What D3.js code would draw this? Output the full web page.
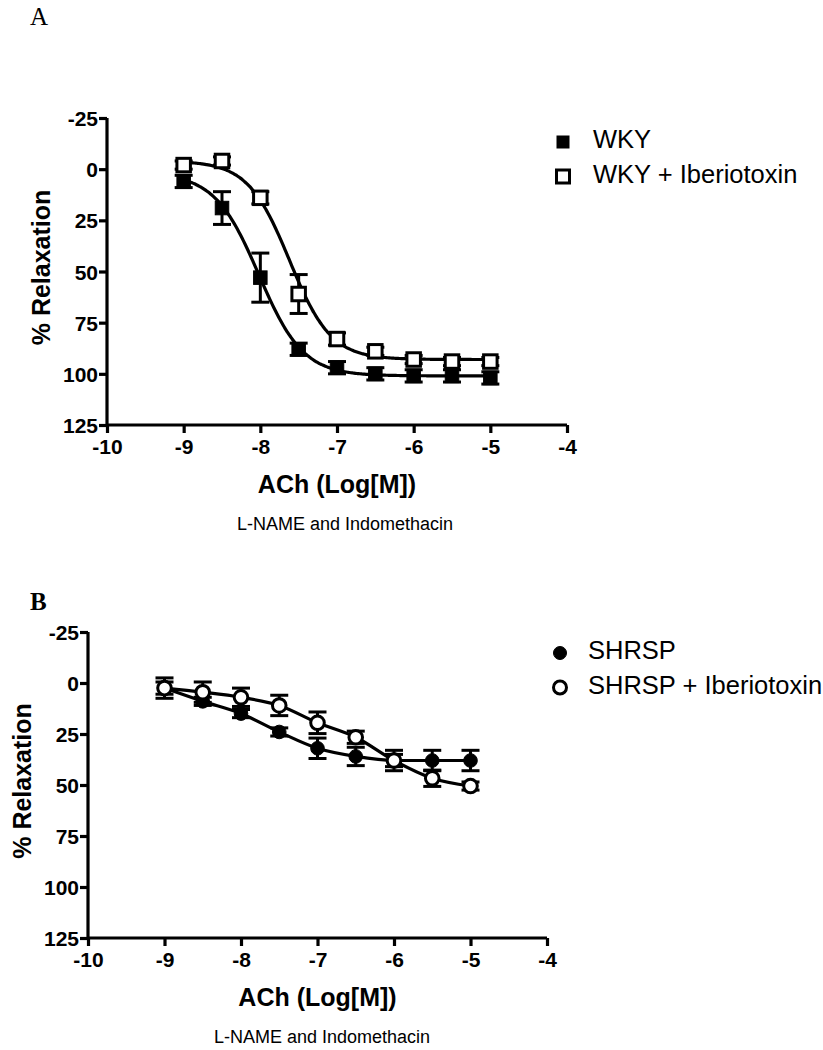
<!DOCTYPE html>
<html><head><meta charset="utf-8">
<script src="https://cdn.jsdelivr.net/npm/d3@7"></script>
<style>body{margin:0;background:#fff}svg{display:block}</style>
</head><body>
<script>
// ---------- data ----------
const logConc = [-9, -8.5, -8, -7.5, -7, -6.5, -6, -5.5, -5];
const xTicks = [-10, -9, -8, -7, -6, -5, -4];
const yTicks = [-25, 0, 25, 50, 75, 100, 125];

// Panel A
const wkyMean = [6, 19, 53, 88, 97, 100, 101, 101, 102];
const wkySem  = [3, 8, 12, 3, 3, 3, 3, 3, 3];
const wkyIbMean = [-2, -4, 14, 61, 83, 89, 93, 94, 94];
const wkyIbSem  = [2, 2, 3, 9.5, 3, 2, 2, 2, 2];
// sigmoid fit parameters [top, bottom, logEC50, hill]
const wkyFit   = [2, 101, -8.02, 1.5];
const wkyIbFit = [-4, 93, -7.62, 1.6];

// Panel B
const shrspMean = [2.5, 9, 15, 24, 32, 36, 38, 38, 38];
const shrspSem  = [5, 2, 2, 2, 5, 4.5, 5, 5, 5];
const shrspIbMean = [2.5, 4.5, 7, 11, 19.5, 26.6, 38, 46.7, 50.5];
const shrspIbSem  = [3, 5, 4.5, 5, 5.3, 3, 3, 4, 2];

const legendA = ["WKY", "WKY + Iberiotoxin"];
const legendB = ["SHRSP", "SHRSP + Iberiotoxin"];
const xTitle = "ACh (Log[M])";
const yTitle = "% Relaxation";
const subTitle = "L-NAME and Indomethacin";

// ---------- drawing ----------
const svg = d3.select("body").append("svg").attr("width", 823).attr("height", 1050);
const SANS = "'Liberation Sans', Arial, sans-serif";
const SERIF = "'Liberation Serif', 'Times New Roman', serif";

function panel(cfg) {
  const x = d3.scaleLinear().domain([-10, -4]).range([cfg.left, cfg.right]);
  const y = d3.scaleLinear().domain([-25, 125]).range([cfg.top, cfg.bottom]);
  const g = svg.append("g");
  const fmt = d => String(d);

  // axes
  const xa = g.append("g").attr("transform", `translate(0,${cfg.bottom})`)
    .call(d3.axisBottom(x).tickValues(xTicks).tickSize(8).tickPadding(6).tickFormat(fmt));
  const ya = g.append("g").attr("transform", `translate(${cfg.left},0)`)
    .call(d3.axisLeft(y).tickValues(yTicks).tickSize(8).tickPadding(1).tickFormat(fmt));
  [xa, ya].forEach(a => {
    a.select(".domain").attr("stroke", "#000").attr("stroke-width", 3.2)
      .attr("d", a === xa ? `M${cfg.left},0H${cfg.right}` : `M0,${cfg.top}V${cfg.bottom}`);
    a.selectAll(".tick line").attr("stroke", "#000").attr("stroke-width", 3.2);
    a.selectAll(".tick text").attr("fill", "#000").attr("font-family", SANS)
      .attr("font-weight", "bold").attr("font-size", 21);
  });
  ya.selectAll(".tick text").attr("dy", "0.36em");
  xa.selectAll(".tick text").attr("dy", "0.72em");

  // titles
  g.append("text").attr("x", (cfg.left + cfg.right) / 2).attr("y", cfg.bottom + 68)
    .attr("text-anchor", "middle").attr("font-family", SANS).attr("font-weight", "bold")
    .attr("font-size", 25).text(xTitle);
  g.append("text").attr("transform", `translate(${cfg.left - 57},${(cfg.top + cfg.bottom) / 2 - 4}) rotate(-90)`)
    .attr("text-anchor", "middle").attr("font-family", SANS).attr("font-weight", "bold")
    .attr("font-size", 25).text(yTitle);
  g.append("text").attr("x", cfg.subX).attr("y", cfg.bottom + 105)
    .attr("text-anchor", "middle").attr("font-family", SANS)
    .attr("font-size", 18).text(subTitle);
  g.append("text").attr("x", cfg.letterX).attr("y", cfg.letterY)
    .attr("font-family", SERIF).attr("font-weight", cfg.letterBold ? "bold" : "normal")
    .attr("font-size", 25).text(cfg.letter);

  // error bars
  cfg.series.forEach(s => {
    const eb = g.append("g").attr("stroke", "#000").attr("stroke-width", 3);
    logConc.forEach((c, i) => {
      const cx = x(c), y1 = y(s.mean[i] - s.sem[i]), y2 = y(s.mean[i] + s.sem[i]);
      eb.append("line").attr("x1", cx).attr("x2", cx).attr("y1", y1).attr("y2", y2);
      eb.append("line").attr("x1", cx - 9).attr("x2", cx + 9).attr("y1", y1).attr("y2", y1);
      eb.append("line").attr("x1", cx - 9).attr("x2", cx + 9).attr("y1", y2).attr("y2", y2);
    });
  });
  // curves
  cfg.series.forEach(s => {
    let pts;
    if (s.fit) {
      const [top, bot, ec, h] = s.fit;
      pts = d3.range(-9, -4.999, 0.02).map(c => [c, top + (bot - top) / (1 + Math.pow(10, (ec - c) * h))]);
    } else {
      pts = logConc.map((c, i) => [c, s.mean[i]]);
    }
    g.append("path").datum(pts)
      .attr("d", d3.line().x(d => x(d[0])).y(d => y(d[1])).curve(d3.curveMonotoneX))
      .attr("fill", "none").attr("stroke", "#000").attr("stroke-width", 3.2);
  });
  // markers
  cfg.series.forEach(s => {
    logConc.forEach((c, i) => drawMarker(g, s.shape, s.filled, x(c), y(s.mean[i]), false));
  });

  // legend
  cfg.series.forEach((s, i) => {
    const ly = cfg.legY + i * 34.5;
    drawMarker(g, s.shape, s.filled, cfg.legX, ly, true);
    g.append("text").attr("x", cfg.legX + cfg.legGap).attr("y", ly + 6)
      .attr("font-family", SANS).attr("font-size", 25.5).text(s.name);
  });
}

function drawMarker(g, shape, filled, cx, cy, legend) {
  if (shape === "square") {
    const s = legend ? (filled ? 12 : 13) : 13.5;
    g.append("rect").attr("x", cx - s / 2).attr("y", cy - s / 2).attr("width", s).attr("height", s)
      .attr("fill", filled ? "#000" : "#fff").attr("stroke", "#000").attr("stroke-width", filled ? 1 : 3);
  } else {
    const r = legend ? 6.5 : 6.8;
    g.append("circle").attr("cx", cx).attr("cy", cy).attr("r", r)
      .attr("fill", filled ? "#000" : "#fff").attr("stroke", "#000").attr("stroke-width", filled ? 1 : 3);
  }
}

panel({
  left: 107, right: 567, top: 118, bottom: 425,
  letter: "A", letterX: 30, letterY: 25, letterBold: false,
  legX: 563, legY: 142, legGap: 30, subX: 345,
  series: [
    {name: legendA[0], mean: wkyMean, sem: wkySem, fit: wkyFit, shape: "square", filled: true},
    {name: legendA[1], mean: wkyIbMean, sem: wkyIbSem, fit: wkyIbFit, shape: "square", filled: false}
  ]
});
panel({
  left: 88, right: 547, top: 632, bottom: 938,
  letter: "B", letterX: 30, letterY: 610, letterBold: true,
  legX: 560, legY: 653, legGap: 28, subX: 322,
  series: [
    {name: legendB[0], mean: shrspMean, sem: shrspSem, shape: "circle", filled: true},
    {name: legendB[1], mean: shrspIbMean, sem: shrspIbSem, shape: "circle", filled: false}
  ]
});
</script>
</body></html>
